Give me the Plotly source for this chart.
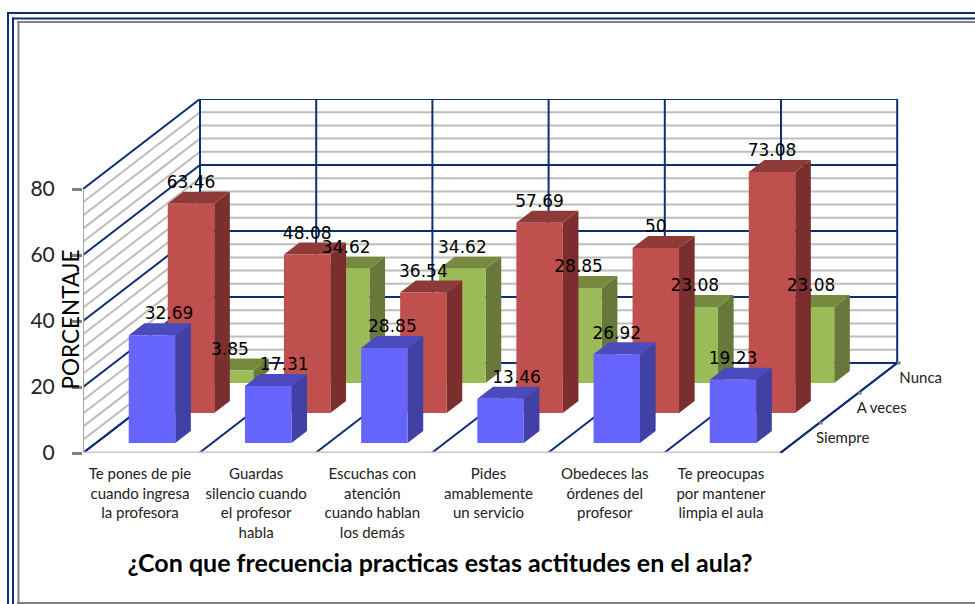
import plotly.graph_objects as go

CATEGORIES = ["Te pones de pie<br>cuando ingresa<br>la profesora",
              "Guardas<br>silencio cuando<br>el profesor<br>habla",
              "Escuchas con<br>atención<br>cuando hablan<br>los demás",
              "Pides<br>amablemente<br>un servicio",
              "Obedeces las<br>órdenes del<br>profesor",
              "Te preocupas<br>por mantener<br>limpia el aula"]
SERIES = ["Siempre", "A veces", "Nunca"]
SIEMPRE = [32.69, 17.31, 28.85, 13.46, 26.92, 19.23]
A_VECES = [63.46, 48.08, 36.54, 57.69, 50, 73.08]
NUNCA = [3.85, 34.62, 34.62, 28.85, 23.08, 23.08]
Y_TICKS = [0, 20, 40, 60, 80]

# px geometry of the oblique projection
W, H = 975, 604
L, R, T, B = 83, 975, 99, 453
CAT_PX, UNIT_PX = 116.2, 3.3
DX = 39 / CAT_PX          # category units per depth row
DY = 30 / UNIT_PX         # value units per depth row
N, ROWS = len(CATEGORIES), len(SERIES)
XMAX = (R - L) / CAT_PX
YMAX = (B - T) / UNIT_PX
BAR_X0, BAR_W, BAR_D0, BAR_D = 0.283, 0.4, 0.33, 0.4

STYLE = [dict(front="#6666FF", side="#4040A5", top="#4B4BBE"),
         dict(front="#C0504D", side="#7A2F2E", top="#8E3A38"),
         dict(front="#9BBB59", side="#67783A", top="#76893F")]
NAVY, GRID = "#0F2F75", "#BDBDBD"
LABEL_NUDGE_PX = [[17, 16, 8, 16, 0, 0], [0] * 6, [0] * 6]
LABEL_RISE_PX = 20


def proj(cat, depth, val):
    return cat + depth * DX, val + depth * DY


fig = go.Figure()


def add_line(pts, color, width, z=0):
    fig.add_trace(go.Scatter(x=[p[0] for p in pts], y=[p[1] for p in pts], mode="lines",
                             line=dict(color=color, width=width), hoverinfo="skip",
                             showlegend=False, cliponaxis=False, zorder=z))


# minor wall grid
for v in range(0, 81, 4):
    if v % 20:
        add_line([proj(0, 0, v), proj(0, ROWS, v), proj(N, ROWS, v)], GRID, 2)
# major wall grid
for v in Y_TICKS:
    add_line([proj(0, 0, v), proj(0, ROWS, v), proj(N, ROWS, v)], NAVY, 2)
for c in range(N + 1):
    add_line([proj(c, ROWS, 0), proj(c, ROWS, 80)], NAVY, 2)
    add_line([proj(c, 0, 0), proj(c, ROWS, 0)], NAVY, 2)
add_line([proj(0, 0, 0), proj(N, 0, 0)], "#C8C8C8", 3)
add_line([proj(0, 0, 0), proj(0, 0, 80)], "#A6A6A6", 2)
add_line([proj(N, 0, 0), proj(N, ROWS, 0)], NAVY, 2)
for d in range(1, ROWS + 1):
    add_line([proj(N, d, 0), proj(N + 0.03, d, 0)], "#808080", 3)

# bars, back row first
values = [SIEMPRE, A_VECES, NUNCA]
for r in reversed(range(ROWS)):
    st = STYLE[r]
    z = 10 + (ROWS - r) * 2
    d0 = r + BAR_D0
    d1 = d0 + BAR_D
    sx, sy, tx, ty = [], [], [], []
    lefts, bases = [], []
    for c, v in enumerate(values[r]):
        x0, y0 = proj(c + BAR_X0, d0, 0)
        lefts.append(x0)
        bases.append(y0)
        a, b = c + BAR_X0, c + BAR_X0 + BAR_W
        side = [proj(b, d0, 0), proj(b, d1, 0), proj(b, d1, v), proj(b, d0, v), proj(b, d0, 0)]
        top = [proj(a, d0, v), proj(b, d0, v), proj(b, d1, v), proj(a, d1, v), proj(a, d0, v)]
        sx += [p[0] for p in side] + [None]
        sy += [p[1] for p in side] + [None]
        tx += [p[0] for p in top] + [None]
        ty += [p[1] for p in top] + [None]
    fig.add_trace(go.Scatter(x=sx, y=sy, mode="lines", fill="toself", fillcolor=st["side"],
                             line=dict(width=0, color=st["side"]), hoverinfo="skip",
                             showlegend=False, zorder=z))
    fig.add_trace(go.Scatter(x=tx, y=ty, mode="lines", fill="toself", fillcolor=st["top"],
                             line=dict(width=0, color=st["top"]), hoverinfo="skip",
                             showlegend=False, zorder=z))
    fig.add_trace(go.Bar(x=lefts, y=values[r], base=bases, width=BAR_W, offset=0,
                         marker=dict(color=st["front"], line=dict(width=0)),
                         name=SERIES[r], showlegend=False, zorder=z + 1))

# value labels
for r in range(ROWS):
    xs, ys, txt = [], [], []
    for c, v in enumerate(values[r]):
        x, y = proj(c + BAR_X0 + BAR_W / 2, r + BAR_D0, v)
        xs.append(x + LABEL_NUDGE_PX[r][c] / CAT_PX)
        ys.append(y + LABEL_RISE_PX / UNIT_PX)
        txt.append(f"{v:g}")
    fig.add_trace(go.Scatter(x=xs, y=ys, mode="text", text=txt, textposition="middle center",
                             textfont=dict(family="DejaVu Sans", size=17, color="#000"),
                             hoverinfo="skip", showlegend=False, cliponaxis=False, zorder=30))

# depth axis labels
dx, dy = [], []
for r in range(ROWS):
    x, y = proj(N, r + 0.5, 0)
    dx.append(x + 43 / CAT_PX)
    dy.append(y - 0.5)
fig.add_trace(go.Scatter(x=dx, y=dy, mode="text", text=SERIES, textposition="middle center",
                         textfont=dict(family="Lato", size=15, color="#222"),
                         hoverinfo="skip", showlegend=False, cliponaxis=False, zorder=30))

# frame
shapes = []
def hline(x0, y, color, w):
    shapes.append(dict(type="line", xref="paper", yref="paper",
                       x0=(x0 - L) / (R - L), x1=(W - L) / (R - L),
                       y0=(B - y) / (B - T), y1=(B - y) / (B - T),
                       line=dict(color=color, width=w), layer="above"))
def vline(x, y0, color, w):
    shapes.append(dict(type="line", xref="paper", yref="paper",
                       x0=(x - L) / (R - L), x1=(x - L) / (R - L),
                       y0=(B - y0) / (B - T), y1=(B - H) / (B - T),
                       line=dict(color=color, width=w), layer="above"))
hline(7, 13, NAVY, 2)
hline(12, 18.5, NAVY, 2)
hline(17, 22, "#808080", 2)
hline(17, 603, "#808080", 2)
vline(8, 12, NAVY, 2)
vline(13, 17.5, NAVY, 2)
vline(18.5, 21, "#808080", 2)

fig.add_annotation(text="PORCENTAJE", textangle=-90, xref="paper", yref="paper",
                   xanchor="center", yanchor="middle",
                   x=(69.5 - L) / (R - L), y=(B - 320) / (B - T), showarrow=False,
                   font=dict(family="Lato", size=22.5, color="#000"))

fig.update_layout(
    width=W, height=H, margin=dict(l=L, r=W - R, t=T, b=H - B),
    paper_bgcolor="white", plot_bgcolor="white", barmode="overlay", showlegend=False,
    shapes=shapes,
    title=dict(text="<b>¿Con que frecuencia practicas estas actitudes en el aula?</b>",
               font=dict(family="Lato", size=25, color="#000"),
               xref="container", yref="container", x=440 / W, y=1 - 563 / H,
               xanchor="center", yanchor="middle"),
    xaxis=dict(range=[0, XMAX], showgrid=False, zeroline=False, showline=False,
               tickmode="array", tickvals=[c + 0.49 for c in range(N)], ticktext=CATEGORIES,
               ticks="", tickangle=0, ticklabelstandoff=10, automargin=False,
               tickfont=dict(family="Lato", size=15, color="#222")),
    yaxis=dict(range=[0, YMAX], showgrid=False, zeroline=False, showline=False,
               tickmode="array", tickvals=Y_TICKS, ticks="outside", ticklen=10, tickwidth=3,
               tickcolor="#808080", ticklabelstandoff=13, automargin=False,
               tickfont=dict(family="Lato", size=21, color="#222")),
)
fig.write_html("out.html", config=dict(displayModeBar=False),
               post_script="document.body.style.margin='0';")
